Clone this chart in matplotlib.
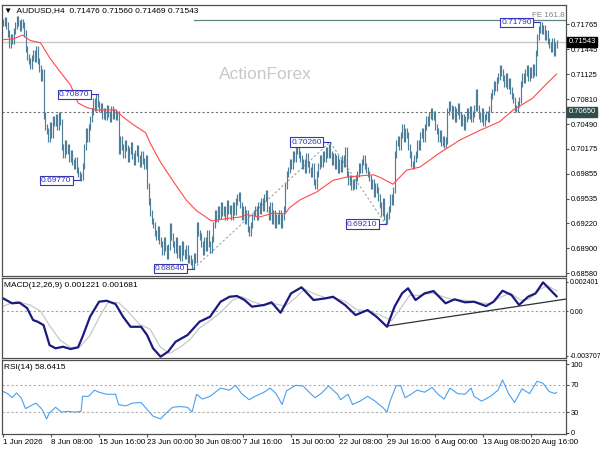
import numpy as np
import matplotlib
matplotlib.use('Agg')
from matplotlib import pyplot as plt
from matplotlib import transforms

plt.rcParams['font.family'] = ['Liberation Sans', 'DejaVu Sans']

# AUDUSD H4 closes, in pips (price x 10000).
closes_pips = [
    7178, 7182, 7175, 7165, 7150, 7160, 7155, 7168, 7175, 7183, 7178, 7172, 7180,
    7176, 7165, 7145, 7135, 7130, 7124, 7134, 7140, 7132, 7145,
    7130, 7120, 7108, 7115, 7060, 7045, 7040, 7030, 7048, 7035, 7055,
    7050, 7058, 7045, 7060, 7052, 7020, 7010,
    7025, 7015, 7020, 7005, 7012, 7000, 6995, 7003, 6990, 6985, 6980, 6982,
    6995, 7020, 7040, 7030, 7045, 7055, 7065, 7078, 7070, 7084, 7075, 7068,
    7072, 7060, 7066, 7058, 7070, 7062, 7055, 7068, 7060, 7064, 7058, 7062, 7015,
    7030, 7020, 7010, 7025, 7018, 7005, 7015, 7022, 7008, 7000, 7012, 7018, 7005,
    6998, 7010, 7002, 6995, 7005,
    6970, 6950, 6935, 6925, 6920, 6910, 6905, 6915, 6900,
    6895, 6885, 6900, 6890, 6880, 6892, 6918, 6905,
    6895, 6888, 6900, 6882, 6890, 6878, 6895, 6885, 6880, 6890, 6875, 6878,
    6872, 6868, 6880, 6875, 6920, 6910,
    6905, 6895, 6885, 6900, 6890, 6910, 6895, 6888, 6902,
    6920, 6935, 6928, 6940, 6932,
    6945, 6935, 6940, 6930, 6948, 6938, 6942, 6930, 6945, 6936, 6950, 6955, 6958,
    6945, 6930, 6940, 6925, 6935, 6915, 6910, 6920, 6930,
    6935, 6940, 6930, 6945, 6938, 6950, 6942, 6955, 6960,
    6940, 6930, 6945, 6925, 6935, 6920, 6930, 6925, 6935, 6920, 6930, 6940,
    6970, 6985, 6990, 7000, 6995, 7010, 7005, 7015, 7025, 7010,
    7005, 6995, 7000, 6990, 7008, 6998, 6990, 6985, 6995, 6975, 6970, 6985,
    6995, 7005, 6998, 7010, 7005, 7015, 7010, 7020,
    7010, 7000, 7008, 6995, 7005, 6990, 7000, 6992, 7005, 6998, 7015,
    6985, 6975, 6980, 6968, 6975, 6970, 6980,
    6985, 6995, 6990, 7000, 7005, 6995, 6990, 6985, 6980,
    6970, 6975, 6960, 6970, 6965, 6955, 6945, 6935, 6950, 6930, 6925, 6932,
    6940, 6955, 6950, 6965, 7010, 7025, 7030, 7020,
    7035, 7045, 7030, 7040, 7035, 7020, 7010, 6998, 6995, 7005,
    7010, 7025, 7020, 7035, 7040, 7030, 7045, 7055, 7050, 7060, 7065, 7058, 7062,
    7045, 7040, 7030, 7038, 7025, 7030, 7022, 7028, 7065, 7075,
    7070, 7060, 7068, 7055, 7065, 7072, 7060, 7050, 7058, 7045, 7055, 7065, 7060,
    7068, 7055, 7062, 7070, 7090,
    7070, 7060, 7055, 7065, 7050, 7058, 7062, 7055, 7068,
    7085, 7090, 7100, 7095, 7105, 7110, 7120, 7115,
    7108, 7100, 7110, 7098, 7104, 7092, 7085, 7080, 7070, 7068, 7075, 7080,
    7100, 7110, 7105, 7115, 7120, 7108, 7118, 7112, 7122, 7115,
    7140, 7160, 7170, 7175, 7168, 7172, 7160, 7165, 7155, 7150,
    7145, 7155, 7140, 7150, 7154.3,
]
first_open_pips = 7180
wick_pips = 4
last_ohlc = (0.71476, 0.71560, 0.71469, 0.71543)

# Labelled swing points: (bar, price, kind)
pivots = [(51, 0.69770, 'low'), (63, 0.70870, 'high'), (127, 0.68640, 'low'),
          (218, 0.70260, 'high'), (255, 0.69210, 'low'), (358, 0.71790, 'high')]
zigzag = [(127, 0.68640), (218, 0.70260), (255, 0.69210)]

# Red moving average: (bar, price)
ma_points = [(0, 0.71570), (7, 0.71580), (13, 0.71630), (18, 0.71560), (25, 0.71530),
             (31, 0.71340), (38, 0.71160), (45, 0.70990), (50, 0.70760), (56, 0.70700),
             (63, 0.70670), (75, 0.70670), (80, 0.70580), (87, 0.70480), (95, 0.70380),
             (98, 0.70250), (105, 0.70000), (113, 0.69770), (122, 0.69520), (129, 0.69380),
             (139, 0.69250), (149, 0.69280), (158, 0.69300), (163, 0.69330), (171, 0.69300),
             (180, 0.69350), (188, 0.69340), (191, 0.69420), (198, 0.69520), (209, 0.69620),
             (220, 0.69770), (229, 0.69810), (240, 0.69830), (247, 0.69840), (251, 0.69810),
             (260, 0.69720), (269, 0.69900), (278, 0.69940), (291, 0.70120), (305, 0.70290),
             (318, 0.70410), (331, 0.70520), (340, 0.70670), (353, 0.70820), (360, 0.70960),
             (369, 0.71130)]

# MACD(12,26,9) main and signal: (bar, value)
macd_points = [(0, 0.00105), (6, 0.00064), (11, 0.00069), (16, 0.00025), (20, -0.00074),
               (23, -0.00088), (27, -0.00116), (31, -0.00281), (35, -0.00308), (40, -0.00295),
               (45, -0.00314), (50, -0.00300), (53, -0.00212), (58, -0.00047), (64, 0.00077),
               (69, 0.00085), (75, 0.00058), (80, -0.00047), (85, -0.00130), (92, -0.00130),
               (96, -0.00198), (100, -0.00308), (105, -0.00377), (110, -0.00336),
               (115, -0.00254), (123, -0.00198), (131, -0.00088), (138, -0.00047),
               (145, 0.00077), (151, 0.00118), (156, 0.00124), (161, 0.00091), (166, 0.00036),
               (174, 0.00050), (179, 0.00072), (185, -0.00014), (192, 0.00146), (199, 0.00196),
               (207, 0.00091), (215, 0.00105), (220, 0.00118), (228, 0.00050), (235, -0.00033),
               (243, 0.00008), (249, -0.00047), (256, -0.00130), (261, 0.00036), (266, 0.00146),
               (270, 0.00188), (275, 0.00091), (281, 0.00146), (287, 0.00165), (295, 0.00064),
               (301, 0.00097), (308, 0.00072), (314, 0.00077), (322, 0.00041), (327, 0.00077),
               (333, 0.00168), (339, 0.00132), (344, 0.00050), (350, 0.00118), (355, 0.00146),
               (360, 0.00237), (366, 0.00160), (369, 0.001221)]
signal_points = [(0, 0.00040), (9, 0.00080), (18, 0.00050), (25, 0.00000), (31, -0.00120),
                 (38, -0.00240), (45, -0.00300), (51, -0.00300), (58, -0.00200), (65, -0.00030),
                 (70, 0.00070), (77, 0.00070), (83, 0.00000), (91, -0.00110), (98, -0.00150),
                 (105, -0.00300), (111, -0.00350), (118, -0.00300), (125, -0.00230),
                 (131, -0.00140), (139, -0.00070), (146, 0.00000), (153, 0.00090),
                 (159, 0.00120), (166, 0.00080), (173, 0.00050), (181, 0.00060), (188, 0.00040),
                 (195, 0.00110), (201, 0.00180), (208, 0.00140), (215, 0.00110), (221, 0.00110),
                 (228, 0.00080), (236, 0.00010), (243, 0.00000), (251, -0.00030),
                 (259, -0.00080), (265, 0.00020), (271, 0.00130), (278, 0.00130),
                 (286, 0.00150), (293, 0.00120), (301, 0.00090), (308, 0.00090), (317, 0.00070),
                 (325, 0.00060), (331, 0.00110), (338, 0.00150), (345, 0.00090), (351, 0.00100),
                 (358, 0.00180), (363, 0.00210), (369, 0.001681)]
macd_trend = [(256, -0.00124), (375.3, 0.00099)]

# RSI(14): (bar, value)
rsi_points = [(0, 60), (3, 57), (6, 51), (9, 58), (12, 51), (15, 35), (20, 41), (22, 43),
              (26, 34), (29, 20), (31, 29), (35, 37), (39, 30), (43, 31), (48, 30), (52, 31),
              (53, 53), (57, 53), (61, 62), (64, 59), (69, 56), (75, 56), (77, 41), (82, 39),
              (86, 43), (92, 44), (96, 34), (100, 24), (105, 20), (109, 29), (113, 37),
              (118, 38), (123, 37), (126, 30), (129, 56), (133, 49), (138, 53), (145, 65),
              (151, 62), (155, 69), (159, 57), (164, 48), (168, 53), (174, 59), (178, 65),
              (182, 57), (186, 41), (189, 61), (195, 69), (200, 68), (205, 57), (208, 51),
              (212, 57), (217, 68), (223, 56), (225, 48), (230, 56), (233, 41), (238, 46),
              (243, 53), (248, 46), (253, 37), (256, 30), (258, 46), (262, 68), (265, 69),
              (268, 51), (272, 56), (276, 62), (281, 59), (286, 66), (290, 56), (294, 49),
              (298, 65), (303, 57), (308, 56), (312, 65), (314, 53), (319, 46), (325, 53),
              (330, 62), (333, 77), (337, 57), (341, 44), (346, 64), (351, 57), (356, 75),
              (360, 72), (364, 60), (368, 57), (369, 58.64)]

price_ticks = [0.71765, 0.71445, 0.71125, 0.70810, 0.70490, 0.70175,
               0.69855, 0.69535, 0.69220, 0.68900, 0.68580]
date_ticks = [0, 32, 64, 96, 128, 160, 192, 224, 256, 288, 320, 352]
date_labels = ['1 Jun 2026', '8 Jun 08:00', '15 Jun 16:00', '23 Jun 00:00',
               '30 Jun 08:00', '7 Jul 16:00', '15 Jul 00:00', '22 Jul 08:00',
               '29 Jul 16:00', '6 Aug 00:00', '13 Aug 08:00', '20 Aug 16:00']

fe_level = 0.71822
fe_start = 127
support_level = 0.70650
last_price = 0.71543

bar_color = '#4e7f9a'
frame_color = '#505050'
label_blue = '#3535b5'
xlim = (-0.7, 375.3)


# Build OHLC from the closes; open is the previous close.
closes = np.array(closes_pips) / 10000.0
opens = np.concatenate([[first_open_pips / 10000.0], closes[:-1]])
wick = wick_pips / 10000.0
highs = np.maximum(opens, closes) + wick
lows = np.minimum(opens, closes) - wick
opens[-1], highs[-1], lows[-1], closes[-1] = last_ohlc
for i, p, kind in pivots:
    if kind == 'high':
        highs[i] = p
    else:
        lows[i] = p
bars = np.arange(len(closes))


fig = plt.figure(figsize=(6, 4.5), dpi=100)
ax = fig.add_axes([2 / 600, 1 - 276 / 450, 564 / 600, 271 / 450])
ax2 = fig.add_axes([2 / 600, 1 - 358 / 450, 564 / 600, 80 / 450])
ax3 = fig.add_axes([2 / 600, 1 - 434 / 450, 564 / 600, 74 / 450])

for a in (ax, ax2, ax3):
    a.set_xlim(*xlim)
    a.yaxis.tick_right()
    a.tick_params(axis='y', labelsize=5.4, length=2, pad=1.5, color=frame_color)
    for s in a.spines.values():
        s.set_color(frame_color)
        s.set_linewidth(0.9)
ax.set_xticks([])
ax2.set_xticks([])
ax2.tick_params(axis='y', labelsize=5, length=1.5, pad=1)

# Main price window.
ax.set_ylim(0.68545, 0.72014)
ax.set_yticks(price_ticks)
ax.set_yticklabels(['%.5f' % t for t in price_ticks])
trans = transforms.blended_transform_factory(ax.transAxes, ax.transData)

ax.axhline(last_price, color='#c8c8c8', lw=1.0, zorder=1)
ax.axhline(support_level, color='#707070', lw=0.8, ls=(0, (2, 2)), zorder=1)
ax.plot([fe_start, xlim[1]], [fe_level, fe_level], color='#5f8585', lw=0.9, zorder=1)
ax.text(0.997, fe_level + 0.0001, 'FE 161.8', transform=trans, ha='right', va='bottom',
        fontsize=5.8, color='#808080')

zz = np.array(zigzag)
ax.plot(zz[:, 0], zz[:, 1], color='#a0a0a0', lw=0.8, ls=(0, (2, 2)), zorder=2)

ax.text(175, 0.71118, 'ActionForex', fontsize=12.5, color='#c8c8c8', ha='center',
        va='center', zorder=0)

ax.vlines(bars, lows, highs, color=bar_color, lw=0.85, zorder=3)
ma = np.array(ma_points)
ax.plot(ma[:, 0], ma[:, 1], color='#ff4a4a', lw=0.8, zorder=4)

for i, p, kind in pivots:
    ax.plot([i - 5, i], [p, p], color=label_blue, lw=0.8, zorder=5)
    ax.text(i - 5.5, p, '%.5f' % p, ha='right', va='center', fontsize=6, color=label_blue,
            zorder=6, bbox=dict(boxstyle='square,pad=0.15', fc='white', ec=label_blue, lw=0.8))

ax.text(1.004, last_price, '%.5f' % last_price, transform=trans, ha='left', va='center',
        fontsize=5.4, color='white', zorder=7, clip_on=False,
        bbox=dict(boxstyle='square,pad=0.2', fc='black', ec='black'))
ax.text(1.004, support_level, '%.5f' % support_level, transform=trans, ha='left',
        va='center', fontsize=5.4, color='white', zorder=7, clip_on=False,
        bbox=dict(boxstyle='square,pad=0.2', fc='#2f4f4f', ec='#2f4f4f'))

ax.text(0.004, 0.992, '\u25bc  AUDUSD,H4  0.71476 0.71560 0.71469 0.71543',
        transform=ax.transAxes, ha='left', va='top', fontsize=6, color='black')

# MACD window.
ax2.set_ylim(-0.00388, 0.00273)
ax2.set_yticks([0.002401, 0.0, -0.003707])
ax2.set_yticklabels(['0.002401', '0.00', '-0.003707'])
ax2.axhline(0, color='#a0a0a0', lw=0.8, ls=(0, (2, 2)))
sig = np.array(signal_points)
ax2.plot(sig[:, 0], sig[:, 1], color='#c8c8c8', lw=0.9)
mc = np.array(macd_points)
ax2.plot(mc[:, 0], mc[:, 1], color='#1a1a80', lw=1.6)
tr = np.array(macd_trend)
ax2.plot(tr[:, 0], tr[:, 1], color='#303030', lw=0.9)
ax2.text(0.004, 0.95, 'MACD(12,26,9) 0.001221 0.001681', transform=ax2.transAxes,
         ha='left', va='top', fontsize=6)

# RSI window.
ax3.set_ylim(-2, 106)
ax3.set_yticks([100, 70, 30, 0])
ax3.axhline(70, color='#b0b0b0', lw=0.8, ls=(0, (2, 2)))
ax3.axhline(30, color='#b0b0b0', lw=0.8, ls=(0, (2, 2)))
rs = np.array(rsi_points)
ax3.plot(rs[:, 0], rs[:, 1], color='#4aa0f0', lw=0.8)
ax3.text(0.004, 0.95, 'RSI(14) 58.6415', transform=ax3.transAxes, ha='left', va='top',
         fontsize=6)
ax3.set_xticks(date_ticks)
ax3.set_xticklabels(date_labels, ha='left', fontsize=5.8)
ax3.tick_params(axis='x', length=2, pad=1.5, color=frame_color)

fig.savefig('out.png', dpi=100)
